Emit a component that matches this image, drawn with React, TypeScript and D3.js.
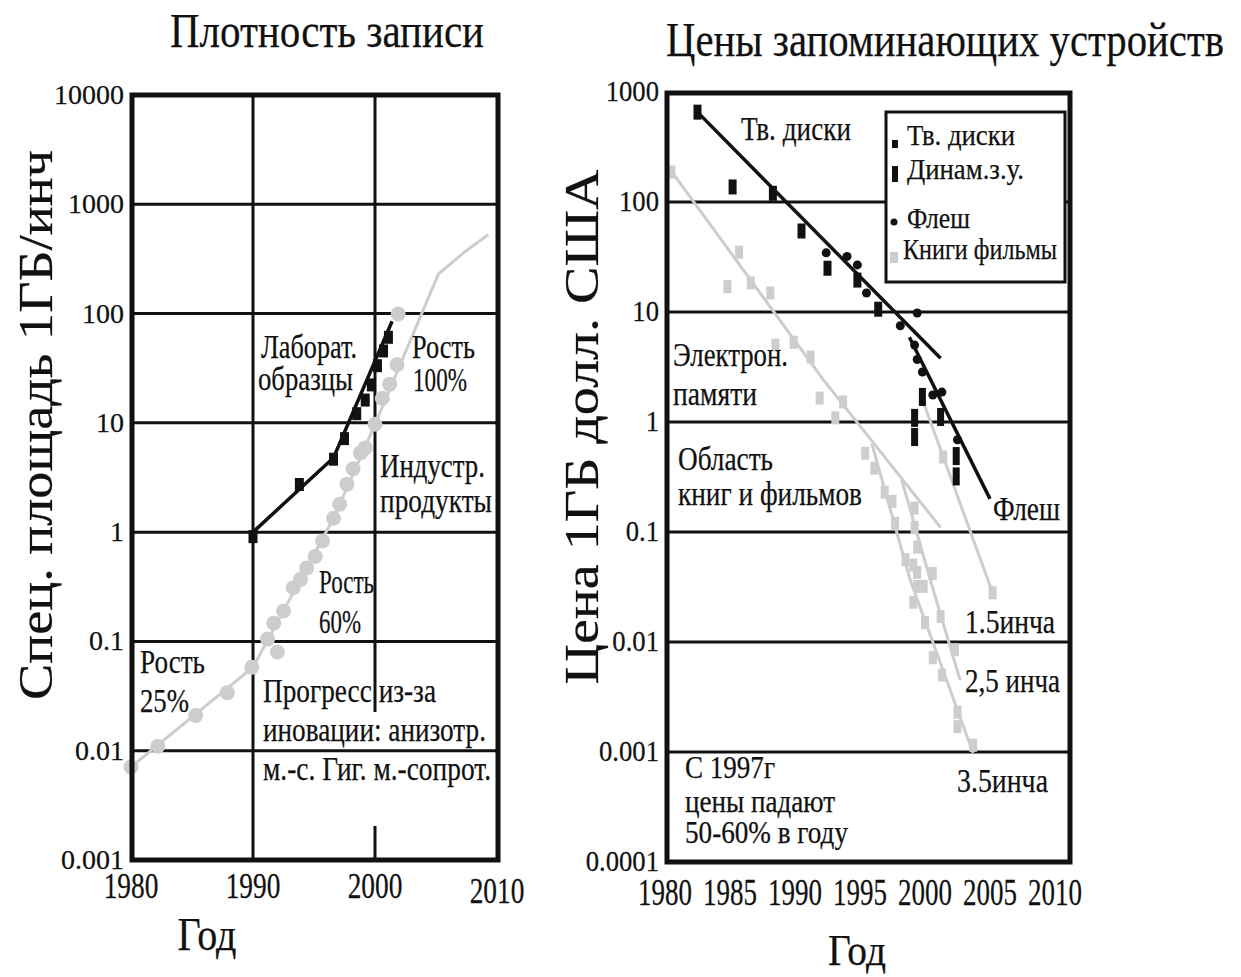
import React from "react";
import * as d3 from "d3";

type Pt = [number, number];

// ---- left panel: areal density ----
const leftYTicks = [0.001, 0.01, 0.1, 1, 10, 100, 1000, 10000];
const leftYLabels = ["0.001", "0.01", "0.1", "1", "10", "100", "1000", "10000"];
const leftXTicks = [1980, 1990, 2000, 2010];

// lab samples (black squares) and their trend line
const labSamples: Pt[] = [
  [1990, 0.9], [1993.8, 2.7], [1996.6, 4.6], [1997.5, 7.1], [1998.5, 12],
  [1999.2, 16], [1999.7, 22], [2000.2, 33], [2000.7, 45], [2001.1, 60],
];
const labTrend: Pt[] = [[1990, 1], [1996.6, 4.8], [2001.4, 85]];

// industry products (grey circles) and their trend line
const industryPoints: Pt[] = [
  [1980, 0.0071], [1982.2, 0.011], [1985.3, 0.021], [1987.9, 0.034], [1989.9, 0.058],
  [1991.2, 0.105], [1992, 0.08], [1991.7, 0.147], [1992.5, 0.19], [1993.3, 0.31],
  [1993.9, 0.37], [1994.4, 0.47], [1995.1, 0.6], [1995.7, 0.83], [1996.6, 1.34],
  [1997.1, 1.8], [1997.7, 2.75], [1998.2, 3.8], [1998.8, 5.3], [1999.2, 5.9],
  [2000, 9.7], [2000.6, 16.8], [2001.2, 22.6], [2001.8, 34], [2001.9, 99],
];
const industryTrend: Pt[] = [
  [1980, 0.0071], [1990, 0.058], [1996.6, 1.34], [2000, 9.7],
  [2005.2, 230], [2007.4, 370], [2009.3, 530],
];

// ---- right panel: storage prices ----
const rightYTicks = [0.0001, 0.001, 0.01, 0.1, 1, 10, 100, 1000];
const rightYLabels = ["0.0001", "0.001", "0.01", "0.1", "1", "10", "100", "1000"];
const rightXTicks = [1980, 1985, 1990, 1995, 2000, 2005, 2010];

const hddSamples: Pt[] = [
  [1982.5, 656], [1985.2, 137], [1988.3, 120], [1990.5, 54.5],
  [1992.5, 25], [1994.8, 19.5], [1996.4, 10.6],
];
const hddTrend: Pt[] = [[1982.5, 656], [2001.2, 3.8]];

const dramSamples: Pt[] = [
  [1999.2, 1.09], [1999.2, 0.73], [1999.8, 1.69], [2001.2, 1.11], [2002.4, 0.49], [2002.4, 0.32],
];

const flashSamples: Pt[] = [
  [1992.4, 34.5], [1994, 32], [1994.8, 26.8], [1995.5, 14.9], [1998.1, 7.5], [1999.4, 9.8],
  [1999.2, 5.0], [1999.4, 3.7], [1999.8, 2.85], [2000.6, 1.76], [2001.3, 1.87], [2002.5, 0.69],
];
const flashTrend: Pt[] = [[1998.8, 5.9], [2005, 0.2]];

const bookSamples: Pt[] = [
  [1980.5, 187], [1985.7, 35], [1984.8, 17], [1986.6, 18.4], [1988.1, 14.9], [1988.5, 5],
  [1989.9, 5.3], [1991.2, 3.9], [1991.9, 1.65], [1993.7, 1.52], [1993.1, 1.09], [1995.4, 0.52],
  [1996.1, 0.38], [1996.9, 0.23], [1997.5, 0.19], [1997.7, 0.12], [1999.2, 0.165], [1999.2, 0.11],
  [1999.4, 0.073], [1998.5, 0.056], [1999.4, 0.043], [2000.6, 0.042], [1999.1, 0.05], [1999.4, 0.032],
  [1999.9, 0.032], [1999.1, 0.023], [2000, 0.015], [2001.2, 0.017], [2002.3, 0.0085], [2000.6, 0.0072],
  [2001.3, 0.005], [2002.5, 0.0023], [2002.5, 0.0017], [2003.7, 0.00115], [2001.4, 0.48], [2005.2, 0.028],
];
const bookTrend: Pt[] = [[1980.5, 190], [1992.2, 2.4], [2001.2, 0.11]];
const disk35Trend: Pt[] = [[1995.9, 0.64], [1998.85, 0.037], [2003.7, 0.00098]];
const disk25Trend: Pt[] = [[1998.2, 0.3], [2000.4, 0.037], [2002.7, 0.0045]];
const disk15Trend: Pt[] = [[1999.8, 1.6], [2005.2, 0.028]];

const FONT = "'Liberation Serif', 'Times New Roman', serif";
const GREY = "#cdcdcd";
const INK = "#111";

function Txt({ x, y, size, len, sx = 1, anchor = "start", rot = 0, children }: any) {
  let tr = `translate(${x},${y})`;
  if (rot) tr += ` rotate(${rot})`;
  if (sx !== 1) tr += ` scale(${sx},1)`;
  return (
    <text
      transform={tr}
      fontSize={size}
      textAnchor={anchor}
      fontFamily={FONT}
      fill={INK}
      stroke={INK}
      strokeWidth={0.25}
      textLength={len}
      lengthAdjust={len ? "spacingAndGlyphs" : undefined}
    >
      {children}
    </text>
  );
}

function LeftPanel() {
  const x = d3.scaleLinear().domain([1980, 2010]).range([131, 497]);
  const y = d3.scaleLog().domain([0.001, 10000]).range([860, 95]);
  const line = d3.line<Pt>().x(d => x(d[0])).y(d => y(d[1]));
  const [x0, x1] = [132, 498];
  const [y0, y1] = [95, 860];

  return (
    <g>
      {/* vertical grid */}
      {[1990, 2000].map(t => (
        <line key={t} x1={x(t)} x2={x(t)} y1={y0} y2={y1} stroke={INK} strokeWidth={3} />
      ))}
      {/* the 2000 line is hidden behind the note block */}
      <rect x={x(2000) - 3} y={712} width={6} height={114} fill="#fff" />
      {/* horizontal grid */}
      {leftYTicks.slice(1, -1).map(t => (
        <line key={t} x1={x0} x2={x1} y1={y(t)} y2={y(t)} stroke={INK} strokeWidth={3} />
      ))}

      {/* industry trend + circles */}
      <path d={line(industryTrend) || ""} fill="none" stroke={GREY} strokeWidth={3} />
      {industryPoints.map((d, i) => (
        <circle key={i} cx={x(d[0])} cy={y(d[1])} r={7.5} fill={GREY} />
      ))}

      {/* lab trend + squares */}
      <path d={line(labTrend) || ""} fill="none" stroke={INK} strokeWidth={3.5} />
      {labSamples.map((d, i) => (
        <rect key={i} x={x(d[0]) - 4.5} y={y(d[1]) - 7} width={9} height={13} fill={INK} />
      ))}

      <rect x={x0} y={y0} width={x1 - x0} height={y1 - y0} fill="none" stroke={INK} strokeWidth={5} />

      {/* tick labels */}
      {leftYTicks.map((t, i) => (
        <Txt key={t} x={124} y={y(t) + 9} size={28} anchor="end">{leftYLabels[i]}</Txt>
      ))}
      {leftXTicks.map(t => (
        <Txt key={t} x={x(t)} y={t === 2010 ? 903 : 898} size={36} sx={0.76} anchor="middle">{t}</Txt>
      ))}

      {/* titles */}
      <Txt x={327} y={47} size={48} len={314} anchor="middle">Плотность записи</Txt>
      <Txt x={52} y={425} size={48} len={550} anchor="middle" rot={-90}>Спец. площадь 1ГБ/инч</Txt>
      <Txt x={207} y={950} size={46} len={59} anchor="middle">Год</Txt>

      {/* annotations */}
      <Txt x={261} y={358} size={34} len={96}>Лаборат.</Txt>
      <Txt x={258} y={390} size={34} len={95}>образцы</Txt>
      <Txt x={412} y={358} size={34} len={63}>Рость</Txt>
      <Txt x={413} y={391} size={34} len={54}>100%</Txt>
      <Txt x={380} y={477} size={34} len={105}>Индустр.</Txt>
      <Txt x={380} y={512} size={34} len={112}>продукты</Txt>
      <Txt x={319} y={593} size={34} len={55}>Рость</Txt>
      <Txt x={319} y={633} size={34} len={42}>60%</Txt>
      <Txt x={140} y={673} size={34} len={65}>Рость</Txt>
      <Txt x={140} y={712} size={34} len={49}>25%</Txt>
      <Txt x={263} y={702} size={34} len={173}>Прогресс из-за</Txt>
      <Txt x={263} y={741} size={34} len={223}>иновации: анизотр.</Txt>
      <Txt x={263} y={780} size={34} len={228}>м.-с. Гиг. м.-сопрот.</Txt>
    </g>
  );
}

function RightPanel() {
  const x = d3.scaleLinear().domain([1980, 2010]).range([665, 1055]);
  const y = d3.scaleLog().domain([0.0001, 1000]).range([862, 92]);
  const line = d3.line<Pt>().x(d => x(d[0])).y(d => y(d[1]));
  const [x0, x1] = [667, 1070];
  const [y0, y1] = [93, 862];

  return (
    <g>
      {rightYTicks.slice(1, -1).map(t => (
        <line key={t} x1={x0} x2={x1} y1={y(t)} y2={y(t)} stroke={INK} strokeWidth={3} />
      ))}

      {/* books / films region */}
      {[bookTrend, disk35Trend, disk25Trend, disk15Trend].map((tr, i) => (
        <path key={i} d={line(tr) || ""} fill="none" stroke={GREY} strokeWidth={3} />
      ))}
      {bookSamples.map((d, i) => (
        <rect key={i} x={x(d[0]) - 4} y={y(d[1]) - 6.5} width={8} height={13} fill={GREY} />
      ))}

      {/* hard disks, flash, DRAM */}
      <path d={line(hddTrend) || ""} fill="none" stroke={INK} strokeWidth={3.5} />
      <path d={line(flashTrend) || ""} fill="none" stroke={INK} strokeWidth={3.5} />
      {hddSamples.map((d, i) => (
        <rect key={i} x={x(d[0]) - 4} y={y(d[1]) - 7.5} width={8} height={15} fill={INK} />
      ))}
      {dramSamples.map((d, i) => (
        <rect key={i} x={x(d[0]) - 3.5} y={y(d[1]) - 9} width={7} height={18} fill={INK} />
      ))}
      {flashSamples.map((d, i) => (
        <circle key={i} cx={x(d[0])} cy={y(d[1])} r={4.5} fill={INK} />
      ))}

      {/* legend */}
      <rect x={886} y={112} width={179} height={170} fill="#fff" stroke={INK} strokeWidth={3} />
      <rect x={892} y={140} width={6} height={8} fill={INK} />
      <rect x={892} y={166} width={6} height={16} fill={INK} />
      <circle cx={894} cy={222} r={3.5} fill={INK} />
      <rect x={890} y={252} width={8} height={11} fill={GREY} />
      <Txt x={907} y={145} size={30} len={108}>Тв. диски</Txt>
      <Txt x={907} y={179} size={30} len={117}>Динам.з.у.</Txt>
      <Txt x={907} y={228} size={30} len={63}>Флеш</Txt>
      <Txt x={903} y={259} size={30} len={154}>Книги фильмы</Txt>

      <rect x={x0} y={y0} width={x1 - x0} height={y1 - y0} fill="none" stroke={INK} strokeWidth={5} />

      {rightYTicks.map((t, i) => (
        <Txt key={t} x={659} y={y(t) + 9} size={29} sx={0.92} anchor="end">{rightYLabels[i]}</Txt>
      ))}
      {rightXTicks.map(t => (
        <Txt key={t} x={x(t)} y={905} size={37} sx={0.73} anchor="middle">{t}</Txt>
      ))}

      <Txt x={945} y={56} size={48} len={558} anchor="middle">Цены запоминающих устройств</Txt>
      <Txt x={598} y={427} size={48} len={515} anchor="middle" rot={-90}>Цена 1ГБ долл. США</Txt>
      <Txt x={857} y={965} size={44} len={58} anchor="middle">Год</Txt>

      <Txt x={741} y={140} size={33} len={110}>Тв. диски</Txt>
      <Txt x={673} y={366} size={33} len={115}>Электрон.</Txt>
      <Txt x={673} y={405} size={33} len={84}>памяти</Txt>
      <Txt x={678} y={470} size={33} len={95}>Область</Txt>
      <Txt x={678} y={505} size={33} len={184}>книг и фильмов</Txt>
      <Txt x={993} y={520} size={33} len={67}>Флеш</Txt>
      <Txt x={965} y={633} size={33} len={90}>1.5инча</Txt>
      <Txt x={965} y={692} size={33} len={95}>2,5 инча</Txt>
      <Txt x={957} y={792} size={33} len={91}>3.5инча</Txt>
      <Txt x={685} y={778} size={31} len={90}>С 1997г</Txt>
      <Txt x={685} y={812} size={31} len={150}>цены падают</Txt>
      <Txt x={685} y={843} size={31} len={163}>50-60% в году</Txt>
    </g>
  );
}

export default function App() {
  return (
    <svg
      width={1241}
      height={977}
      viewBox="0 0 1241 977"
      style={{ position: "absolute", left: 0, top: 0, background: "#fff" }}
    >
      <rect width={1241} height={977} fill="#fff" />
      <LeftPanel />
      <RightPanel />
    </svg>
  );
}
